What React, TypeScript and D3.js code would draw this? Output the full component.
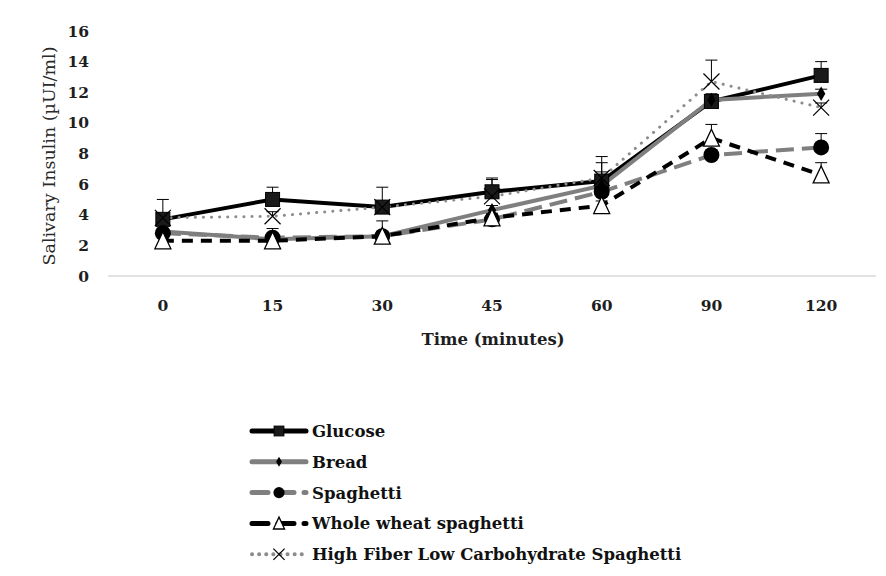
import * as d3 from "d3";
import React, { useRef, useEffect } from "react";

const times = ["0", "15", "30", "45", "60", "90", "120"];
const yTicks = [0, 2, 4, 6, 8, 10, 12, 14, 16];

const glucose = [3.7, 5.0, 4.5, 5.5, 6.2, 11.4, 13.1];
const glucoseErr = [0.3, 0.8, 0.3, 0.8, 1.2, 0.5, 0.9];
const bread = [2.9, 2.4, 2.6, 4.3, 5.9, 11.5, 11.9];
const breadErr = [0.2, 0.3, 0.3, 0.3, 0.9, 0.3, 0.3];
const spaghetti = [2.8, 2.5, 2.6, 3.7, 5.5, 7.9, 8.4];
const spaghettiErr = [0.3, 0.6, 0.3, 0.3, 0.5, 0.3, 0.9];
const wholeWheat = [2.3, 2.3, 2.6, 3.8, 4.6, 9.0, 6.6];
const wholeWheatErr = [0.2, 0.2, 1.0, 0.3, 0.3, 0.9, 0.8];
const highFiber = [3.8, 3.9, 4.5, 5.2, 6.4, 12.7, 11.0];
const highFiberErr = [1.2, 0.3, 1.3, 1.2, 1.4, 1.4, 0.3];

const series = [
  { name: "Glucose", values: glucose, err: glucoseErr, color: "#000", width: 4, dash: null, marker: "square" },
  { name: "Bread", values: bread, err: breadErr, color: "#7f7f7f", width: 4, dash: null, marker: "diamond" },
  { name: "Spaghetti", values: spaghetti, err: spaghettiErr, color: "#7f7f7f", width: 4, dash: "18,8", marker: "circle" },
  { name: "Whole wheat spaghetti", values: wholeWheat, err: wholeWheatErr, color: "#000", width: 4, dash: "11,8", marker: "triangle" },
  { name: "High Fiber Low Carbohydrate Spaghetti", values: highFiber, err: highFiberErr, color: "#8c8c8c", width: 3, dash: "0.1,8", marker: "x" },
];

const FONT = "'DejaVu Serif', 'Liberation Serif', serif";

// s = size factor (legend markers are a bit smaller)
const drawMarker = (g, type, x, y, s = 1) => {
  if (type === "square") {
    g.append("rect").attr("x", x - 7 * s).attr("y", y - 7 * s).attr("width", 14 * s).attr("height", 14 * s)
      .attr("fill", "#1a1a1a").attr("stroke", "#000").attr("stroke-width", 1);
  } else if (type === "diamond") {
    g.append("path").attr("d", d3.symbol(d3.symbolDiamond, 60 * s * s)()).attr("transform", `translate(${x},${y})`)
      .attr("fill", "#000");
  } else if (type === "circle") {
    g.append("circle").attr("cx", x).attr("cy", y).attr("r", 8 * s).attr("fill", "#000");
  } else if (type === "triangle") {
    g.append("path").attr("d", `M${x},${y - 9 * s}L${x + 8 * s},${y + 8 * s}L${x - 8 * s},${y + 8 * s}Z`)
      .attr("fill", "#fff").attr("stroke", "#000").attr("stroke-width", 1.3);
  } else if (type === "x") {
    const r = 8 * s;
    g.append("path").attr("d", `M${x - r},${y - r}L${x + r},${y + r}M${x - r},${y + r}L${x + r},${y - r}`)
      .attr("stroke", "#000").attr("stroke-width", 1.2).attr("fill", "none");
  }
};

const App = () => {
  const svgRef = useRef(null);

  useEffect(() => {
    const svg = d3.select(svgRef.current);
    svg.selectAll("*").remove();

    const xScale = d3.scaleBand().domain(times).range([108, 876]);
    const yScale = d3.scaleLinear().domain([0, 16]).range([276, 31]);
    const cx = (d) => xScale(d) + xScale.bandwidth() / 2;

    // x axis line
    svg.append("line").attr("x1", 108).attr("x2", 876).attr("y1", yScale(0)).attr("y2", yScale(0))
      .attr("stroke", "#d9d9d9").attr("stroke-width", 1.5);

    // tick labels
    svg.selectAll(".ytick").data(yTicks).enter().append("text")
      .attr("x", 89).attr("y", (d) => yScale(d)).attr("dy", "0.36em")
      .attr("text-anchor", "end").attr("font-family", FONT).attr("font-weight", "bold")
      .attr("font-size", 15.5).attr("fill", "#1e1e1e").text((d) => d);

    svg.selectAll(".xtick").data(times).enter().append("text")
      .attr("x", (d) => cx(d)).attr("y", 305).attr("dy", "0.36em")
      .attr("text-anchor", "middle").attr("font-family", FONT).attr("font-weight", "bold")
      .attr("font-size", 15.5).attr("fill", "#1e1e1e").text((d) => d);

    svg.append("text").attr("x", 493).attr("y", 339).attr("dy", "0.36em").attr("text-anchor", "middle")
      .attr("font-family", FONT).attr("font-weight", "bold").attr("font-size", 16.5).attr("fill", "#1e1e1e")
      .text("Time (minutes)");

    svg.append("text").attr("transform", "translate(49,156) rotate(-90)").attr("dy", "0.36em")
      .attr("text-anchor", "middle").attr("font-family", FONT).attr("font-size", 17.5).attr("fill", "#2a2a2a")
      .text("Salivary Insulin (µUI/ml)");

    const line = d3.line().x((d, i) => cx(times[i])).y((d) => yScale(d));

    // error bars (upper only)
    series.forEach((s) => {
      const g = svg.append("g");
      s.values.forEach((v, i) => {
        const x = cx(times[i]);
        g.append("line").attr("x1", x).attr("x2", x).attr("y1", yScale(v)).attr("y2", yScale(v + s.err[i]))
          .attr("stroke", "#000").attr("stroke-width", 1);
        g.append("line").attr("x1", x - 6).attr("x2", x + 6)
          .attr("y1", yScale(v + s.err[i])).attr("y2", yScale(v + s.err[i]))
          .attr("stroke", "#000").attr("stroke-width", 1);
      });
    });

    // lines
    series.forEach((s) => {
      svg.append("path").datum(s.values).attr("d", line).attr("fill", "none")
        .attr("stroke", s.color).attr("stroke-width", s.width)
        .attr("stroke-dasharray", s.dash).attr("stroke-linecap", s.marker === "x" ? "round" : "butt");
    });

    // markers
    series.forEach((s) => {
      const g = svg.append("g");
      s.values.forEach((v, i) => drawMarker(g, s.marker, cx(times[i]), yScale(v)));
    });

    // legend
    const legend = svg.append("g");
    series.forEach((s, i) => {
      const y = 431 + i * 30.8;
      legend.append("line").attr("x1", 252).attr("x2", 306).attr("y1", y).attr("y2", y)
        .attr("stroke", s.color).attr("stroke-width", s.width + 1)
        .attr("stroke-dasharray", s.marker === "x" ? "0.1,7" : s.dash ? "16,10" : null)
        .attr("stroke-linecap", "round");
      drawMarker(legend, s.marker, 279, y, 0.7);
      legend.append("text").attr("x", 312).attr("y", y).attr("dy", "0.36em")
        .attr("font-family", FONT).attr("font-weight", "bold").attr("font-size", 16.5).attr("fill", "#111")
        .text(s.name);
    });
  }, []);

  return (
    <div style={{ position: "absolute", left: 0, top: 0, width: 886, height: 576, background: "#fff" }}>
      <svg ref={svgRef} width={886} height={576}></svg>
    </div>
  );
};

export default App;
